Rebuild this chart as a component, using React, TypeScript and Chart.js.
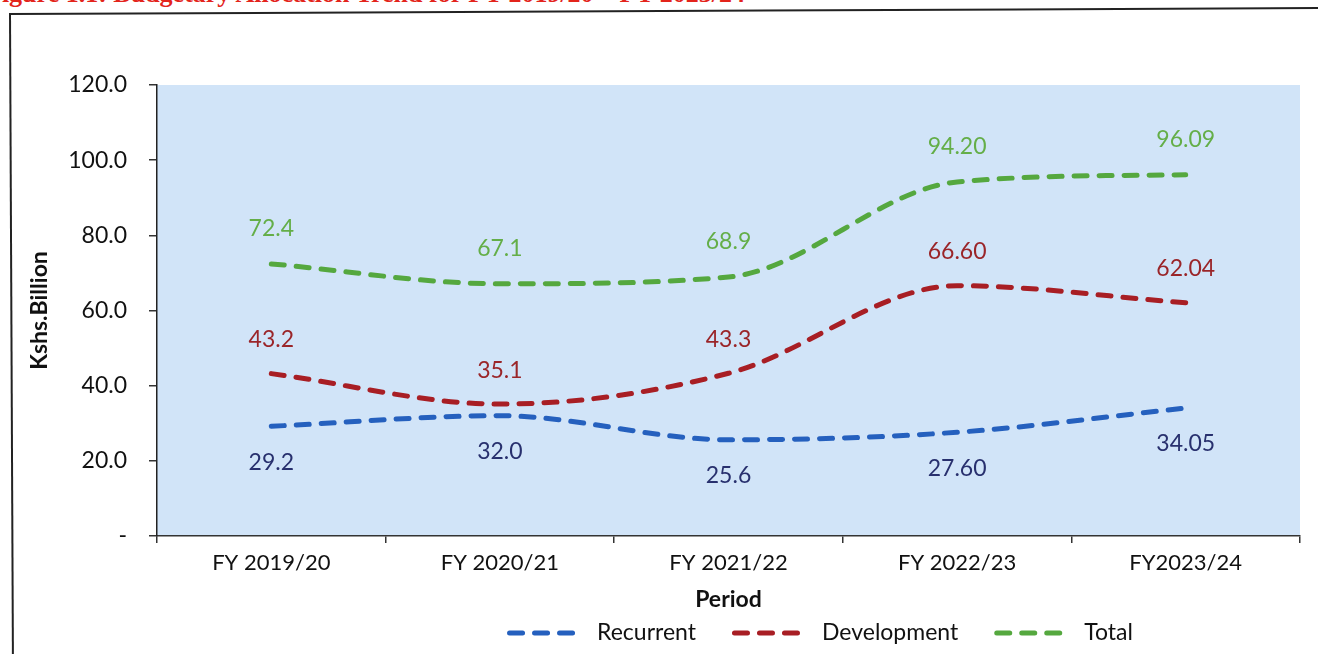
import React, { useEffect, useRef } from "react";
import { Chart, registerables } from "chart.js";

Chart.register(...registerables);

// ---- data ----
const categories = ["FY 2019/20", "FY 2020/21", "FY 2021/22", "FY 2022/23", "FY2023/24"];
const recurrent = [29.2, 32.0, 25.6, 27.6, 34.05];
const development = [43.2, 35.1, 43.3, 66.6, 62.04];
const total = [72.4, 67.1, 68.9, 94.2, 96.09];
const labelDecimals = [1, 1, 1, 2, 2];
const yTicks = { min: 0, max: 120, step: 20 };
const seriesNames = ["Recurrent", "Development", "Total"];

const FONT = "Lato, 'Open Sans', sans-serif";

const seriesStyle = [
  { line: "#2560be", label: "#28306e", dy: 36 },
  { line: "#a81e24", label: "#9a2529", dy: -34 },
  { line: "#55a83f", label: "#64ae48", dy: -35 },
];

export default function App() {
  const ref = useRef<HTMLCanvasElement>(null);

  useEffect(() => {
    const canvas = ref.current;
    if (!canvas) return;

    const bgPlugin = {
      id: "plotBg",
      beforeDraw(chart: any) {
        const { ctx, chartArea: a } = chart;
        ctx.save();
        ctx.fillStyle = "#d1e4f8";
        ctx.fillRect(a.left, a.top, a.right - a.left, a.bottom - a.top);
        ctx.restore();
      },
    };

    const valueLabels = {
      id: "valueLabels",
      afterDatasetsDraw(chart: any) {
        const ctx = chart.ctx;
        chart.data.datasets.forEach((ds: any, i: number) => {
          const meta = chart.getDatasetMeta(i);
          const st = seriesStyle[i];
          ctx.save();
          ctx.font = `23px ${FONT}`;
          ctx.fillStyle = st.label;
          ctx.textAlign = "center";
          ctx.textBaseline = "middle";
          meta.data.forEach((pt: any, j: number) => {
            const v = ds.data[j] as number;
            ctx.fillText(v.toFixed(labelDecimals[j]), pt.x, pt.y + st.dy);
          });
          ctx.restore();
        });
      },
    };

    const dashLegend = {
      id: "dashLegend",
      afterDraw(chart: any) {
        const ctx = chart.ctx;
        const symW = 68;
        const symGap = 22;
        const itemGap = 36;
        const centerX = 820;
        const y = 633;
        ctx.save();
        ctx.font = `23px ${FONT}`;
        const widths = seriesNames.map((n) => ctx.measureText(n).width);
        const totalW =
          widths.reduce((s, w) => s + symW + symGap + w, 0) + itemGap * (seriesNames.length - 1);
        let x = centerX - totalW / 2;
        seriesNames.forEach((n, i) => {
          ctx.beginPath();
          ctx.setLineDash([13, 12]);
          ctx.lineCap = "round";
          ctx.lineWidth = 5;
          ctx.strokeStyle = seriesStyle[i].line;
          ctx.moveTo(x + 2.5, y);
          ctx.lineTo(x + symW - 2.5, y);
          ctx.stroke();
          ctx.setLineDash([]);
          ctx.fillStyle = "#111";
          ctx.textAlign = "left";
          ctx.textBaseline = "middle";
          ctx.fillText(n, x + symW + symGap, y);
          x += symW + symGap + widths[i] + itemGap;
        });
        ctx.restore();
      },
    };

    const mk = (label: string, data: number[], i: number) => ({
      label,
      data,
      borderColor: seriesStyle[i].line,
      backgroundColor: seriesStyle[i].line,
      borderWidth: 5,
      borderDash: [13, 12],
      borderCapStyle: "round" as const,
      pointRadius: 0,
      cubicInterpolationMode: "monotone" as const,
      fill: false,
    });

    const chart = new Chart(canvas, {
      type: "line",
      data: {
        labels: categories,
        datasets: [
          mk(seriesNames[0], recurrent, 0),
          mk(seriesNames[1], development, 1),
          mk(seriesNames[2], total, 2),
        ],
      },
      options: {
        responsive: false,
        animation: false,
        devicePixelRatio: 1,
        layout: { padding: { left: 20, top: 85, right: 18, bottom: 38 } },
        plugins: { legend: { display: false }, tooltip: { enabled: false } },
        scales: {
          x: {
            type: "category",
            offset: true,
            grid: {
              display: true,
              drawOnChartArea: false,
              offset: true,
              tickLength: 7,
              color: "#333",
              lineWidth: 1.5,
            },
            border: { display: true, color: "#333", width: 1.5 },
            ticks: {
              color: "#111",
              font: { family: FONT, size: 22 },
              padding: 7,
              maxRotation: 0,
              autoSkip: false,
            },
            title: {
              display: true,
              text: "Period",
              color: "#111",
              font: { family: FONT, size: 23, weight: "bold" },
              padding: { top: 0, bottom: 3 },
            },
            afterFit: (s: any) => {
              s.height = 80;
            },
          },
          y: {
            min: yTicks.min,
            max: yTicks.max,
            ticks: {
              stepSize: yTicks.step,
              color: "#111",
              font: { family: FONT, size: 23 },
              padding: 22,
              callback: (v: any) => (Number(v) === 0 ? "-" : Number(v).toFixed(1)),
            },
            grid: { drawOnChartArea: false, tickLength: 8, color: "#333", lineWidth: 1.5 },
            border: { display: true, color: "#222", width: 1.5 },
            title: {
              display: true,
              text: "Kshs.Billion",
              color: "#111",
              font: { family: FONT, size: 23, weight: "bold" },
              padding: { top: 6, bottom: 0 },
            },
            afterFit: (s: any) => {
              s.width = 137;
            },
          },
        },
      },
      plugins: [bgPlugin, valueLabels, dashLegend],
    });

    return () => chart.destroy();
  }, []);

  return (
    <div
      style={{
        position: "fixed",
        left: 0,
        top: 0,
        width: 1318,
        height: 654,
        overflow: "hidden",
        background: "#fff",
      }}
    >
      <div
        style={{
          position: "absolute",
          left: -14,
          top: -19,
          fontFamily: "'Liberation Serif', serif",
          fontWeight: "bold",
          fontSize: 26,
          lineHeight: "26px",
          color: "#e3241b",
          whiteSpace: "nowrap",
        }}
      >
        Figure 1.1: Budgetary Allocation Trend for FY 2019/20 – FY 2023/24
      </div>
      <div
        style={{
          position: "absolute",
          left: 9,
          top: 13,
          width: 1400,
          height: 700,
          borderLeft: "2px solid #222",
          borderTop: "2px solid #222",
          transform: "rotate(-0.26deg)",
          transformOrigin: "0 0",
        }}
      />
      <canvas
        ref={ref}
        width={1318}
        height={654}
        style={{ position: "absolute", left: 0, top: 0, width: 1318, height: 654 }}
      />
    </div>
  );
}
